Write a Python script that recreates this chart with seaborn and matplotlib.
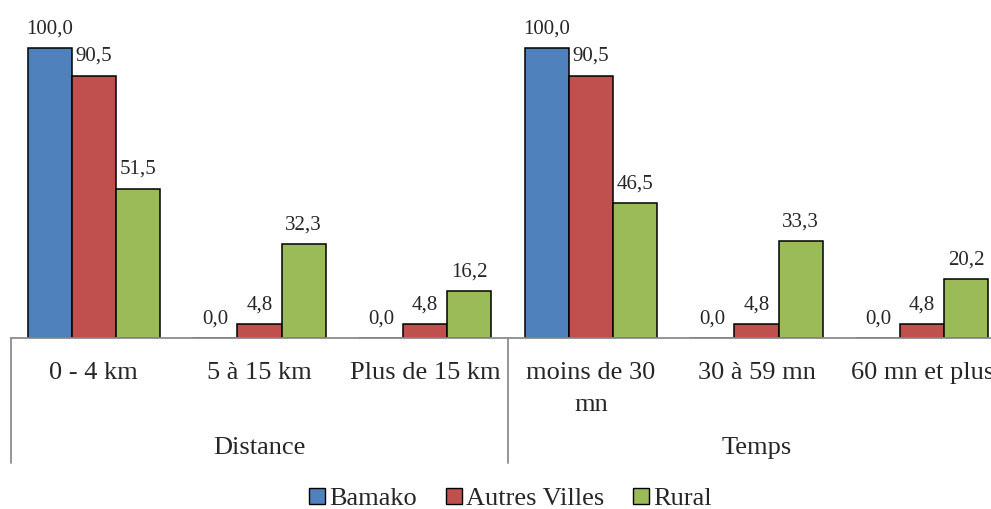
import pandas as pd
import numpy as np
import seaborn as sns
from matplotlib import pyplot as plt
from matplotlib.patches import Patch
from matplotlib import transforms

categories = ['0 - 4 km', '5 à 15 km', 'Plus de 15 km',
              'moins de 30\nmn', '30 à 59 mn', '60 mn et plus']
groups = ['Distance', 'Temps']
series = ['Bamako', 'Autres Villes', 'Rural']
bamako = [100.0, 0.0, 0.0, 100.0, 0.0, 0.0]
autres = [90.5, 4.8, 4.8, 90.5, 4.8, 4.8]
rural = [51.5, 32.3, 16.2, 46.5, 33.3, 20.2]
colors = ['#4F81BD', '#C0504D', '#9BBB59']

df = pd.DataFrame({
    'cat': categories * 3,
    'zone': np.repeat(series, len(categories)),
    'val': bamako + autres + rural,
})

sns.set_style('white')
plt.rcParams['font.family'] = ['Liberation Serif', 'DejaVu Serif']

fig = plt.figure(figsize=(9.91, 5.09), dpi=100)
# axes runs past the right edge, as in the original (last label is cut)
ax = fig.add_axes([11 / 991, 171 / 509, 994 / 991, 319 / 509])

sns.barplot(data=df, x='cat', y='val', hue='zone', order=categories,
            hue_order=series, palette=colors, saturation=1, width=0.8,
            edgecolor='black', linewidth=1.1, errorbar=None, ax=ax)

for c in ax.containers:
    ax.bar_label(c, labels=[f'{v:.1f}'.replace('.', ',') for v in c.datavalues],
                 padding=7, fontsize=15)

ax.set_xlim(-0.5, 5.5)
ax.set_ylim(0, 110)
ax.set_xlabel('')
ax.set_ylabel('')
ax.set_yticks([])
ax.tick_params(axis='x', length=0, pad=17, labelsize=19)
for t in ax.get_xticklabels():
    t.set_linespacing(1.6)
for s in ['top', 'right', 'left']:
    ax.spines[s].set_visible(False)
ax.spines['bottom'].set_color('#8c8c8c')
ax.spines['bottom'].set_linewidth(1.3)

# group separators and group labels
tr = transforms.blended_transform_factory(ax.transData, fig.transFigure)
for xs in [-0.5, 2.5, 5.5]:
    ax.plot([xs, xs], [171 / 509, 46 / 509], color='#8c8c8c', lw=1.3,
            transform=tr, clip_on=False)
for i, g in enumerate(groups):
    ax.text(1 + 3 * i, 61 / 509, g, transform=tr, ha='center', va='center',
            fontsize=19)

ax.get_legend().remove()
handles = [Patch(facecolor=col, edgecolor='black', linewidth=1) for col in colors]
fig.legend(handles, series, loc='center', bbox_to_anchor=(0.515, 10 / 509),
           ncol=3, frameon=False, fontsize=19, handlelength=0.6,
           handleheight=0.6, handletextpad=0.15, columnspacing=1.1,
           borderaxespad=0)

plt.savefig('out.png', dpi=100)
